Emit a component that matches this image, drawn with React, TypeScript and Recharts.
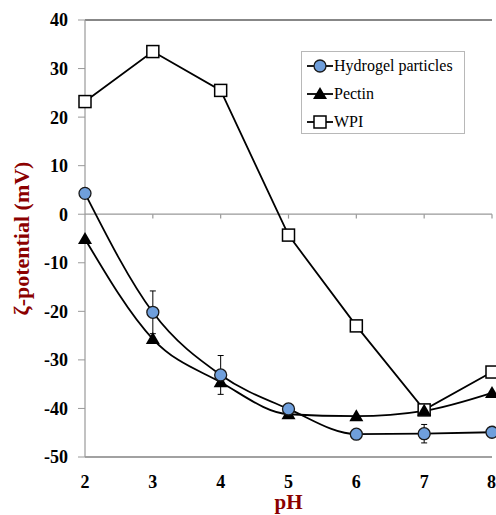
import React from 'react';
import {
  LineChart, Line, XAxis, YAxis, ReferenceLine, ErrorBar, Legend, Label,
} from 'recharts';

const phValues = [2, 3, 4, 5, 6, 7, 8];
const hydrogel = [4.3, -20.2, -33.1, -40.1, -45.3, -45.2, -44.9];
const hydrogelErr = [0.4, 4.4, 4.0, 1.0, 0.5, 1.9, 0.5];
const pectin = [-5.1, -25.7, -34.6, -41.2, -41.6, -40.5, -36.8];
const wpi = [23.2, 33.5, 25.5, -4.3, -23.0, -40.3, -32.5];
const yTicks = [-50, -40, -30, -20, -10, 0, 10, 20, 30, 40];

const data = phValues.map((ph, i) => ({
  ph,
  hydrogel: hydrogel[i],
  hErr: hydrogelErr[i],
  pectin: pectin[i],
  wpi: wpi[i],
}));

const FONT = 'Liberation Serif, Times New Roman, serif';
const DARK_RED = '#8b0000';
const BLUE = '#6f9fdc';

const CircleDot = (props: any) => {
  const { cx, cy } = props;
  if (cx == null || cy == null) return null;
  return <circle cx={cx} cy={cy} r={6} fill={BLUE} stroke="#1a1a1a" strokeWidth={1.3} />;
};

const TriangleDot = (props: any) => {
  const { cx, cy } = props;
  if (cx == null || cy == null) return null;
  return <path d={`M${cx},${cy - 7}L${cx + 7},${cy + 5}L${cx - 7},${cy + 5}Z`} fill="#000" />;
};

const SquareDot = (props: any) => {
  const { cx, cy } = props;
  if (cx == null || cy == null) return null;
  return <rect x={cx - 6} y={cy - 6} width={12} height={12} fill="#fff" stroke="#000" strokeWidth={1.5} />;
};

const legendItems = [
  { name: 'Hydrogel particles', Marker: CircleDot },
  { name: 'Pectin', Marker: TriangleDot },
  { name: 'WPI', Marker: SquareDot },
];

const LegendBox = () => (
  <div
    style={{
      width: 164,
      height: 83,
      border: '1px solid #b8b8b8',
      background: '#fff',
      fontFamily: FONT,
      fontSize: 16,
      color: '#000',
      boxSizing: 'border-box',
      paddingTop: 0,
    }}
  >
    {legendItems.map(({ name, Marker }) => (
      <div key={name} style={{ display: 'flex', alignItems: 'center', height: 28 }}>
        <svg width={30} height={20} style={{ marginLeft: 4 }}>
          <line x1={1} y1={10} x2={27} y2={10} stroke="#000" strokeWidth={1.8} />
          <Marker cx={14} cy={10} />
        </svg>
        <span style={{ marginLeft: -2, whiteSpace: 'nowrap' }}>{name}</span>
      </div>
    ))}
  </div>
);

const YLabel = (props: any) => {
  const { viewBox } = props;
  const cy = viewBox.y + viewBox.height / 2;
  return (
    <text
      x={21}
      y={cy}
      transform={`rotate(-90, 21, ${cy})`}
      textAnchor="middle"
      dominantBaseline="central"
      fill={DARK_RED}
      fontFamily={FONT}
      fontWeight="bold"
      fontSize={22}
    >
      ζ-potential (mV)
    </text>
  );
};

const XLabel = (props: any) => {
  const { viewBox } = props;
  return (
    <text
      x={viewBox.x + viewBox.width / 2}
      y={509}
      textAnchor="middle"
      fill={DARK_RED}
      fontFamily={FONT}
      fontWeight="bold"
      fontSize={21}
    >
      pH
    </text>
  );
};

const tickStyle = { fontFamily: FONT, fontWeight: 'bold' as const, fontSize: 18, fill: '#000' };

export default function App() {
  return (
    <div style={{ position: 'absolute', left: 0, top: 0, background: '#fff', fontFamily: FONT }}>
      <LineChart
        width={496}
        height={515}
        data={data}
        margin={{ top: 20, right: 4, bottom: 0, left: 25 }}
        style={{ fontFamily: FONT }}
      >
        <XAxis
          dataKey="ph"
          type="number"
          domain={[2, 8]}
          ticks={phValues}
          axisLine={{ stroke: '#444', strokeWidth: 1.2 }}
          tickLine={false}
          tickMargin={12}
          height={58}
          tick={tickStyle}
        >
          <Label content={<XLabel />} />
        </XAxis>
        <YAxis
          type="number"
          domain={[-50, 40]}
          ticks={yTicks}
          width={60}
          axisLine={{ stroke: '#999', strokeWidth: 1.2 }}
          tickLine={{ stroke: '#999' }}
          tickSize={7}
          tickMargin={10}
          tick={tickStyle}
          interval={0}
        >
          <Label content={<YLabel />} />
        </YAxis>
        <ReferenceLine y={40} stroke="#111" strokeWidth={1.2} />
        <ReferenceLine y={0} stroke="#999" strokeWidth={1.2} />
        {phValues.slice(1).map((ph) => (
          <ReferenceLine
            key={ph}
            segment={[{ x: ph, y: 0 }, { x: ph, y: -0.9 }]}
            stroke="#999"
            strokeWidth={1.2}
          />
        ))}
        <Legend
          verticalAlign="middle"
          align="center"
          layout="horizontal"
          content={<LegendBox />}
          wrapperStyle={{ position: 'absolute', left: 301, top: 51, width: 164, height: 83 }}
        />
        <Line
          dataKey="wpi"
          name="WPI"
          type="linear"
          stroke="#000"
          strokeWidth={1.8}
          dot={<SquareDot />}
          isAnimationActive={false}
        />
        <Line
          dataKey="pectin"
          name="Pectin"
          type="monotone"
          stroke="#000"
          strokeWidth={1.8}
          dot={<TriangleDot />}
          isAnimationActive={false}
        />
        <Line
          dataKey="hydrogel"
          name="Hydrogel particles"
          type="monotone"
          stroke="#000"
          strokeWidth={1.8}
          dot={<CircleDot />}
          isAnimationActive={false}
        >
          <ErrorBar dataKey="hErr" width={3} stroke="#000" strokeWidth={1} direction="y" />
        </Line>
      </LineChart>
    </div>
  );
}
